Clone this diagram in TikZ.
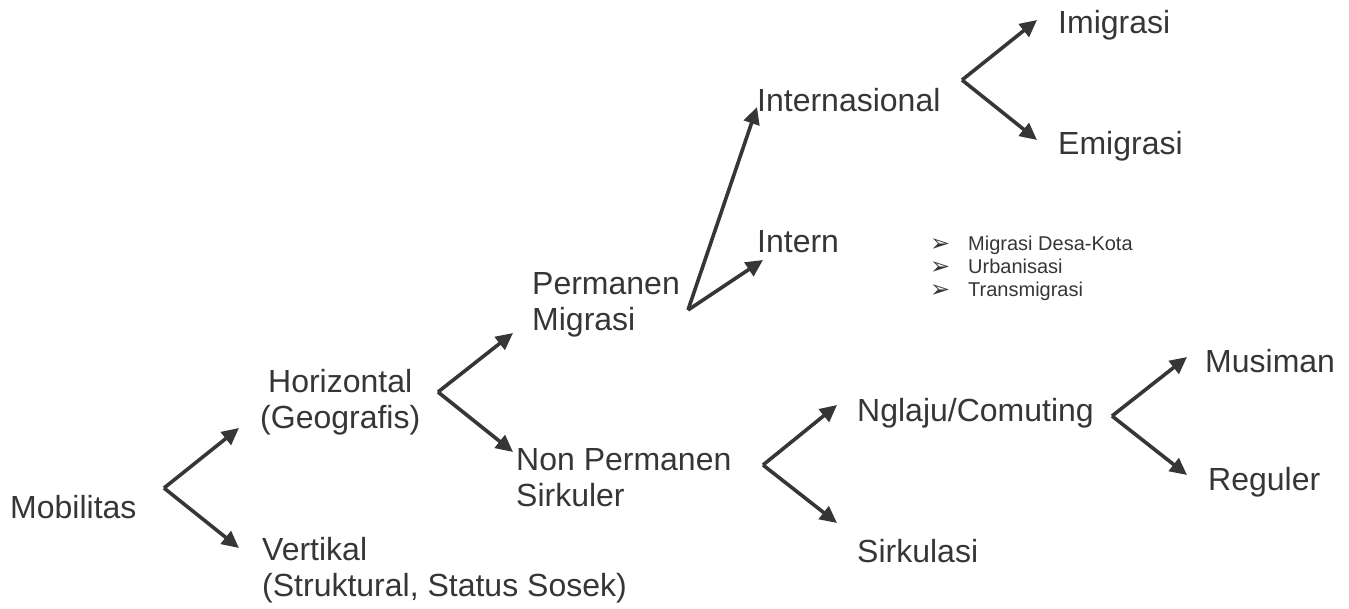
\documentclass[tikz,border=0pt]{standalone}
\usepackage{fontspec}
\setmainfont{Liberation Sans}
\newfontfamily\dejavu{DejaVu Sans}
\usetikzlibrary{arrows.meta}
\definecolor{ink}{HTML}{363636}
\tikzset{
  lbl/.style={anchor=west, inner sep=0pt, text=ink, font=\fontsize{32}{36}\selectfont},
  arr/.style={draw=ink, line width=3.6pt, -{Triangle[length=17pt,width=16pt]}},
}
\newcommand{\bul}{\makebox[38pt][l]{\raisebox{-1pt}{\dejavu\fontsize{24}{23}\selectfont ➢}}}
\begin{document}
\begin{tikzpicture}[x=1pt,y=-1pt]
\useasboundingbox (0,0) rectangle (1349,608);
% text nodes
\node[lbl] (mob) at (10,507) {Mobilitas};
\node[lbl, align=center] (hor) at (260,402) {Horizontal\\(Geografis)};
\node[lbl, align=left] (ver) at (262,570) {Vertikal\\(Struktural, Status Sosek)};
\node[lbl, align=left] (perm) at (532,305) {Permanen\\Migrasi};
\node[lbl, align=left] (nonp) at (516,478) {Non Permanen\\Sirkuler};
\node[lbl] (inter) at (757,100) {Internasional};
\node[lbl] (intern) at (757,242) {Intern};
\node[lbl] (imi) at (1058,25) {Imigrasi};
\node[lbl] (emi) at (1058,146) {Emigrasi};
\node[lbl] (ngl) at (857,413) {Nglaju/Comuting};
\node[lbl] (sirk) at (857,551) {Sirkulasi};
\node[lbl] (mus) at (1205,361) {Musiman};
\node[lbl] (reg) at (1208,482) {Reguler};
\node[anchor=west, inner sep=0pt, text=ink, align=left, font=\fontsize{20}{23}\selectfont] (list) at (930,268)
  {\bul Migrasi Desa-Kota\\
   \bul Urbanisasi\\
   \bul Transmigrasi};
% fork points and arrow tips
\coordinate (f1) at (164,488);
\coordinate (t1a) at (239,428);
\coordinate (t1b) at (239,548);
\coordinate (f2) at (438,392);
\coordinate (t2a) at (513,333);
\coordinate (t2b) at (513,452);
\coordinate (f3) at (688,310);
\coordinate (t3a) at (757,107);
\coordinate (t3b) at (763,260);
\coordinate (f4) at (962,80);
\coordinate (t4a) at (1037,20);
\coordinate (t4b) at (1037,140);
\coordinate (f5) at (763,465);
\coordinate (t5a) at (837,405);
\coordinate (t5b) at (837,523);
\coordinate (f6) at (1112,416);
\coordinate (t6a) at (1187,357);
\coordinate (t6b) at (1187,475);
\draw[arr] (f1) -- (t1a);
\draw[arr] (f1) -- (t1b);
\draw[arr] (f2) -- (t2a);
\draw[arr] (f2) -- (t2b);
\draw[arr] (f3) -- (t3a);
\draw[arr] (f3) -- (t3b);
\draw[arr] (f4) -- (t4a);
\draw[arr] (f4) -- (t4b);
\draw[arr] (f5) -- (t5a);
\draw[arr] (f5) -- (t5b);
\draw[arr] (f6) -- (t6a);
\draw[arr] (f6) -- (t6b);
\end{tikzpicture}
\end{document}
